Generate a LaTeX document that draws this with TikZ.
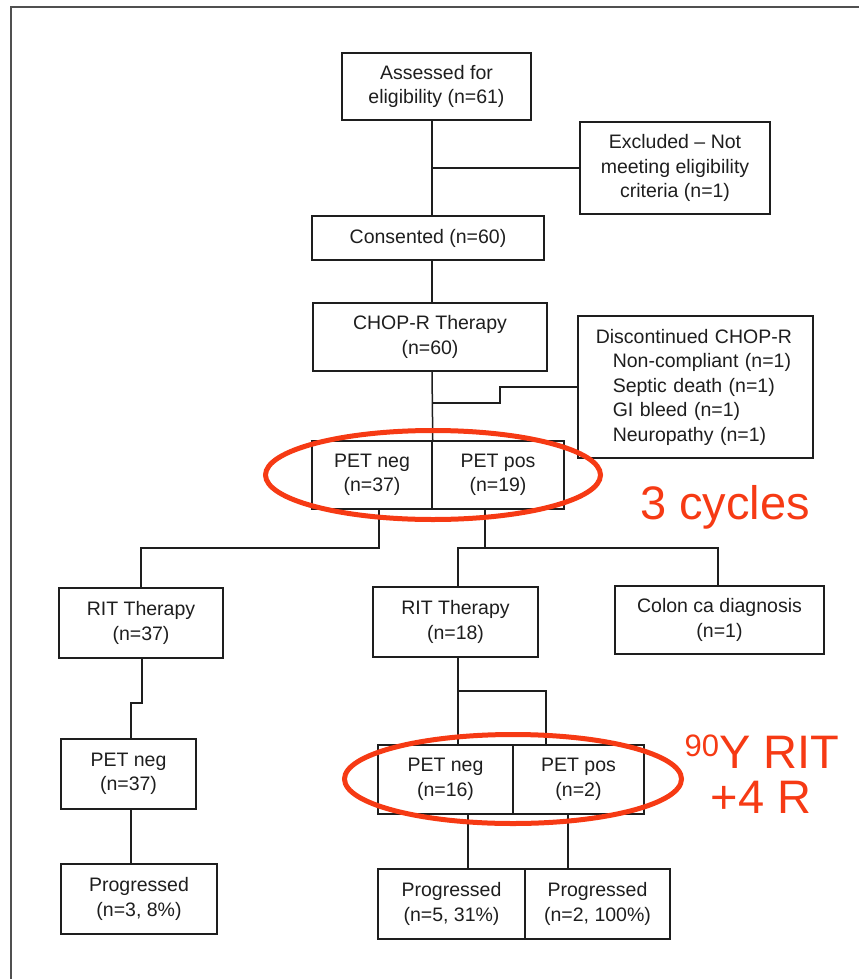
\documentclass[tikz,border=0pt]{standalone}
\usepackage{fontspec}
\setmainfont{Liberation Sans}
\definecolor{ink}{RGB}{30,30,30}
\definecolor{frame}{RGB}{80,80,80}
\definecolor{hl}{RGB}{246,58,20}
\newcommand\bxf{\fontsize{19.5}{24.5}\selectfont}
\newcommand\notef{\fontsize{47}{47}\selectfont}
\begin{document}
\begin{tikzpicture}[x=1pt,y=-1pt,
  box/.style={draw=ink, line width=1.5pt, inner sep=0pt, align=center, font=\bxf, text=ink},
  conn/.style={draw=ink, line width=1.5pt},
  ring/.style={draw=hl, line width=5pt},
  note/.style={text=hl, font=\notef, inner sep=0pt}]
\useasboundingbox (0,0) rectangle (859,979);
\draw[line width=2pt, draw=frame] (11,979) -- (11,7) -- (859,7);

% boxes
\node[box, minimum width=189pt, minimum height=67pt] (assess) at (436.5,86.5) {Assessed for\\eligibility (n=61)};
\node[box, minimum width=190pt, minimum height=92pt] (excl) at (675,168) {Excluded – Not\\meeting eligibility\\criteria (n=1)};
\node[box, minimum width=232pt, minimum height=44pt] (consent) at (428,238) {Consented (n=60)};
\node[box, minimum width=234pt, minimum height=68pt] (chop) at (430,337) {CHOP-R Therapy\\(n=60)};
\node[box, anchor=west, text width=199pt, align=left, inner xsep=18pt, minimum height=142pt] (disc) at (577,387)
  {Discontinued CHOP-R\\\hspace*{17pt}Non-compliant (n=1)\\\hspace*{17pt}Septic death (n=1)\\\hspace*{17pt}GI bleed (n=1)\\\hspace*{17pt}Neuropathy (n=1)};
\node[box, minimum width=120pt, minimum height=68pt] (petneg1) at (372,475) {PET neg\\(n=37)};
\node[box, minimum width=132pt, minimum height=68pt] (petpos1) at (498,475) {PET pos\\(n=19)};
\node[box, minimum width=164pt, minimum height=70pt] (rit1) at (141,623) {RIT Therapy\\(n=37)};
\node[box, minimum width=165pt, minimum height=70pt] (rit2) at (455.5,622) {RIT Therapy\\(n=18)};
\node[box, minimum width=209pt, minimum height=68pt] (colon) at (719.5,620) {Colon ca diagnosis\\(n=1)};
\node[box, minimum width=135pt, minimum height=70pt] (petneg2) at (128.5,774) {PET neg\\(n=37)};
\node[box, minimum width=135pt, minimum height=69pt] (petneg3) at (445.5,779.5) {PET neg\\(n=16)};
\node[box, minimum width=131pt, minimum height=69pt] (petpos3) at (578.5,779.5) {PET pos\\(n=2)};
\node[box, minimum width=156pt, minimum height=70pt] (prog1) at (139,899) {Progressed\\(n=3, 8\%)};
\node[box, minimum width=147pt, minimum height=70pt] (prog2) at (451.5,904) {Progressed\\(n=5, 31\%)};
\node[box, minimum width=145pt, minimum height=70pt] (prog3) at (597.5,904) {Progressed\\(n=2, 100\%)};

% connectors
\coordinate (dj) at (432,403);
\draw[conn] ([xshift=-4.5pt]assess.south) -- ([xshift=4pt]consent.north);
\draw[conn] (excl.west) -- (excl.west -| dj);
\draw[conn] ([xshift=4pt]consent.south) -- ([xshift=2pt]chop.north);
\draw[conn] ([xshift=2pt]chop.south) -- (petneg1.north east);
\draw[conn] (disc.west) -- ++(-77,0) |- (dj);
\draw[conn] ([xshift=7pt]petneg1.south) -- ++(0,38) -| (rit1.north);
\draw[conn] ([xshift=-13pt]petpos1.south) -- ++(0,38) coordinate (j2);
\draw[conn] ([xshift=2.5pt]rit2.north) |- (j2) -| ([xshift=-1.5pt]colon.north);
\draw[conn] ([xshift=1pt]rit1.south) -- ++(0,44) -| ([xshift=2.5pt]petneg2.north);
\draw[conn] ([xshift=2.5pt]petneg2.south) -- ([xshift=2.5pt]petneg2.south |- prog1.north);
\draw[conn] ([xshift=2.5pt]rit2.south) -- ([xshift=12.5pt]petneg3.north);
\draw[conn] ([xshift=2.5pt]rit2.south) ++(0,33) -| ([xshift=-32.5pt]petpos3.north);
\draw[conn] ([xshift=22.5pt]petneg3.south) -- ([xshift=16.5pt]prog2.north);
\draw[conn] ([xshift=-10.5pt]petpos3.south) -- ([xshift=-29.5pt]prog3.north);

% red annotations
\draw[ring] (433,475) ellipse [x radius=167.5pt, y radius=44.5pt];
\draw[ring] (513,779) ellipse [x radius=168.5pt, y radius=44.5pt];
\node[note, anchor=base west] (cyc) at (640,519) {3 cycles};
\node[note, anchor=base] (yrit) at (762,768) {\raisebox{11.4pt}{\fontsize{31}{31}\selectfont 90}Y RIT};
\node[note, anchor=base] (plusr) at (761,813) {+4 R};
\end{tikzpicture}
\end{document}
